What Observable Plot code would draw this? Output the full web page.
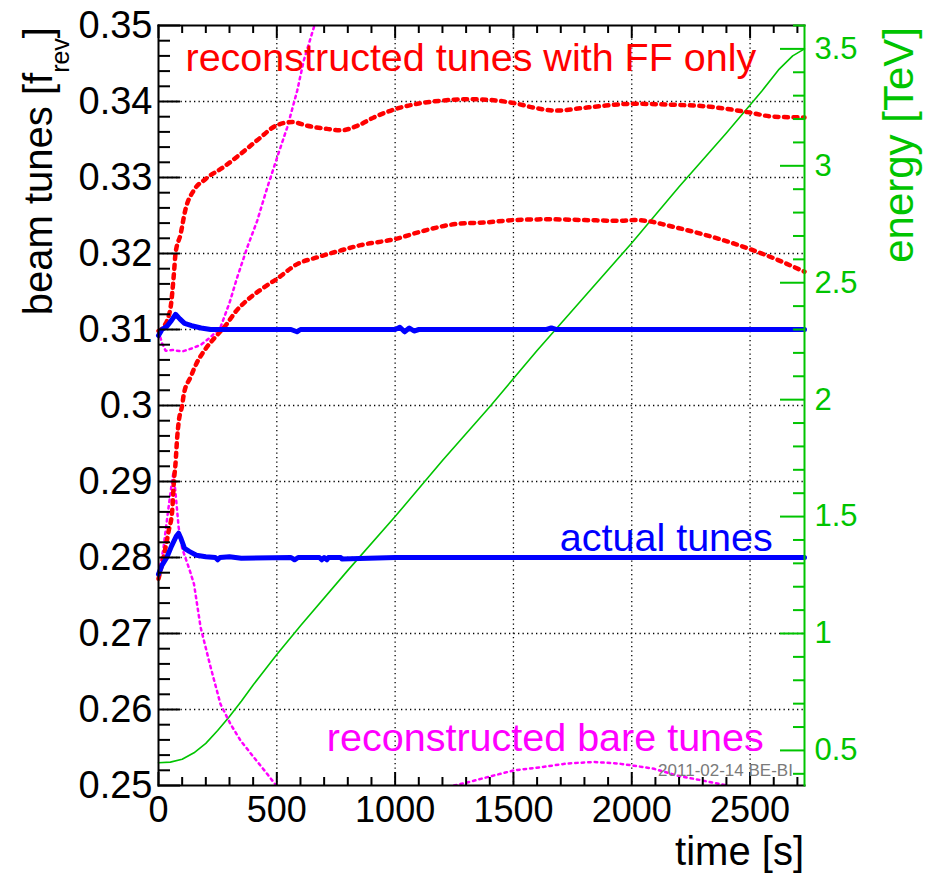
<!DOCTYPE html>
<html><head><meta charset="utf-8">
<script src="https://cdn.jsdelivr.net/npm/d3@7"></script>
<script src="https://cdn.jsdelivr.net/npm/@observablehq/plot@0.6"></script>
<style>
body{margin:0;background:#fff;}
#chart svg{font-family:"Liberation Sans",Arial,Helvetica,sans-serif;}
</style>
</head><body><div id="chart"></div>
<script>
// ---------- data ----------
const actualHT = [0, 15, 35, 55, 72, 90, 110, 140, 180, 220, 300, 560, 585, 600, 620, 800, 1000, 1020, 1040, 1060, 1080, 1100, 1300, 1640, 1660, 1680, 2000, 2730];
const actualHV = [0.3092, 0.3100, 0.3104, 0.3112, 0.3120, 0.3114, 0.3108, 0.3105, 0.3102, 0.3100, 0.3100, 0.3100, 0.3097, 0.3100, 0.3100, 0.3100, 0.3100, 0.3103, 0.3097, 0.3102, 0.3098, 0.3100, 0.3100, 0.3100, 0.3102, 0.3100, 0.3100, 0.3100];

const actualVT = [0, 15, 35, 55, 75, 85, 95, 110, 130, 160, 200, 240, 250, 260, 300, 350, 560, 575, 590, 640, 680, 690, 700, 712, 718, 770, 775, 1000, 2730];
const actualVV = [0.2778, 0.2790, 0.2800, 0.2815, 0.2828, 0.2832, 0.2825, 0.2812, 0.2808, 0.2803, 0.2801, 0.2800, 0.2797, 0.2800, 0.2801, 0.2799, 0.2800, 0.2797, 0.2800, 0.2800, 0.2800, 0.2797, 0.2800, 0.2797, 0.2800, 0.2800, 0.2798, 0.2800, 0.2800];

const ffHT = [0, 25, 51, 65, 72, 93, 114, 149, 199, 276, 347, 417, 502, 565, 629, 713, 770, 840, 910, 1000, 1094, 1192, 1300, 1400, 1500, 1600, 1680, 1780, 1869, 2010, 2150, 2334, 2489, 2600, 2730];
const ffHV = [0.3098, 0.3105, 0.3129, 0.3173, 0.3200, 0.3225, 0.3258, 0.3283, 0.3298, 0.3314, 0.3331, 0.3349, 0.3369, 0.3373, 0.3368, 0.3364, 0.3362, 0.3368, 0.3379, 0.3390, 0.3397, 0.3401, 0.3403, 0.3402, 0.3398, 0.3391, 0.3388, 0.3391, 0.3394, 0.3397, 0.3396, 0.3393, 0.3386, 0.3380, 0.3379];

const ffVT = [0, 21, 43, 58, 65, 72, 79, 86, 100, 107, 135, 160, 200, 240, 283, 330, 380, 430, 502, 586, 671, 770, 854, 1000, 1122, 1263, 1390, 1500, 1650, 1800, 1950, 2010, 2080, 2150, 2292, 2433, 2574, 2730];
const ffVV = [0.2772, 0.2800, 0.2835, 0.2862, 0.2900, 0.2924, 0.2958, 0.2980, 0.3000, 0.3015, 0.3037, 0.3055, 0.3075, 0.3090, 0.3105, 0.3125, 0.3140, 0.3152, 0.3167, 0.3186, 0.3195, 0.3204, 0.3211, 0.3219, 0.3230, 0.3239, 0.3241, 0.3244, 0.3245, 0.3244, 0.3243, 0.3244, 0.3242, 0.3237, 0.3226, 0.3213, 0.3197, 0.3176];

const bareHT = [0, 15, 30, 60, 100, 140, 180, 220, 262, 300, 333, 375, 417, 460, 502, 544, 586, 614, 657];
const bareHV = [0.3098, 0.3082, 0.3072, 0.3073, 0.3071, 0.3075, 0.3080, 0.3090, 0.3103, 0.3135, 0.3169, 0.3208, 0.3243, 0.3287, 0.3327, 0.3366, 0.3414, 0.3454, 0.3498];

// bare vertical tune: leaves the frame below 0.25 between ~500 s and ~1250 s (null = gap)
const bareVT = [0, 20, 40, 55, 63, 72, 85, 100, 130, 150, 178, 220, 262, 304, 347, 403, 460, 497, null, 1249, 1305, 1390, 1503, 1615, 1728, 1841, 1940, 2010, 2094, 2193, 2292, 2405];
const bareVV = [0.2780, 0.2810, 0.2860, 0.2895, 0.2912, 0.2885, 0.2840, 0.2812, 0.2785, 0.2765, 0.2708, 0.2656, 0.2607, 0.2581, 0.2559, 0.2537, 0.2515, 0.2500, null, 0.2500, 0.2504, 0.2511, 0.2520, 0.2524, 0.2529, 0.2531, 0.2529, 0.2526, 0.2522, 0.2513, 0.2507, 0.2500];

const energyT = [0, 50, 100, 150, 200, 250, 300, 350, 400, 450, 500, 600, 800, 1000, 1200, 1400, 1600, 1800, 2000, 2200, 2400, 2550, 2620, 2680, 2730];
const energyV = [0.447, 0.450, 0.462, 0.490, 0.530, 0.585, 0.645, 0.710, 0.780, 0.845, 0.910, 1.033, 1.27, 1.50, 1.74, 1.97, 2.21, 2.44, 2.67, 2.91, 3.14, 3.32, 3.41, 3.47, 3.50];

const timeTicks = [0, 500, 1000, 1500, 2000, 2500];
const tuneTicks = [0.25, 0.26, 0.27, 0.28, 0.29, 0.30, 0.31, 0.32, 0.33, 0.34, 0.35];
const energyTicks = [0.5, 1, 1.5, 2, 2.5, 3, 3.5];

const annoTexts = ["reconstructed tunes with FF only", "actual tunes", "reconstructed bare tunes", "2011-02-14 BE-BI"];
const annoT = [114, 2596, 2558, 2681];
const annoQ = [0.3457, 0.2825, 0.25625, 0.2520];

// ---------- helpers ----------
const E0 = 0.35, E1 = 3.6;                      // energy range of the right axis
const toTune = e => 0.25 + (e - E0) / (E1 - E0) * 0.1;
const toEnergy = q => E0 + (q - 0.25) / 0.1 * (E1 - E0);
const rows = (ts, vs) => ts.map((t, i) => ({t, v: vs[i]}));

const timeMinor = d3.range(0, 2731, 100).filter(v => v % 500 !== 0);
const tuneMinor = d3.range(250, 351, 2).filter(v => v % 10 !== 0).map(v => v / 1000);
const energyMinor = d3.range(4, 37, 1).filter(v => v % 5 !== 0).map(v => v / 10);

const W = 925, H = 875, ML = 158, MR = 121, MT = 25, MB = 90;
const PW = W - ML - MR, PH = H - MT - MB;
const GREEN = "#00c400", RED = "#ff0000", BLUE = "#0000ff", MAG = "#ff00ff";
const FONT = '"Liberation Sans",Arial,Helvetica,sans-serif';

const plot = Plot.plot({
  width: W, height: H,
  marginLeft: ML, marginRight: MR, marginTop: MT, marginBottom: MB,
  x: {domain: [0, 2730], axis: null},
  y: {domain: [0.25, 0.35], axis: null},
  style: {fontFamily: FONT, background: "#fff", color: "#000", overflow: "visible"},
  marks: [
    Plot.gridX(timeTicks.slice(1), {stroke: "#000", strokeOpacity: 1, strokeWidth: 1.3, strokeDasharray: "1.3,3.2"}),
    Plot.gridY(tuneTicks.slice(1, -1), {stroke: "#000", strokeOpacity: 1, strokeWidth: 1.3, strokeDasharray: "1.3,3.2"}),

    Plot.line(rows(energyT, energyV), {x: "t", y: d => toTune(d.v), stroke: GREEN, strokeWidth: 1.6}),
    Plot.line(rows(bareHT, bareHV), {x: "t", y: "v", stroke: MAG, strokeWidth: 2.5, strokeDasharray: "2.5,4", clip: true}),
    Plot.line(rows(bareVT, bareVV), {x: "t", y: "v", stroke: MAG, strokeWidth: 2.5, strokeDasharray: "2.5,4", clip: true}),
    Plot.line(rows(ffHT, ffHV), {x: "t", y: "v", stroke: RED, strokeWidth: 4.5, strokeDasharray: "4,5.5", curve: "monotone-x"}),
    Plot.line(rows(ffVT, ffVV), {x: "t", y: "v", stroke: RED, strokeWidth: 4.5, strokeDasharray: "4,5.5", curve: "monotone-x"}),
    Plot.line(rows(actualHT, actualHV), {x: "t", y: "v", stroke: BLUE, strokeWidth: 5}),
    Plot.line(rows(actualVT, actualVV), {x: "t", y: "v", stroke: BLUE, strokeWidth: 5}),

    // frame
    Plot.frame({anchor: "top", stroke: "#000", strokeWidth: 2}),
    Plot.frame({anchor: "bottom", stroke: "#000", strokeWidth: 2}),
    Plot.frame({anchor: "left", stroke: "#000", strokeWidth: 2}),
    Plot.frame({anchor: "right", stroke: GREEN, strokeWidth: 2}),

    // inward ticks (ROOT style)
    Plot.tickY(tuneTicks, {y: d => d, insetRight: PW - 22, stroke: "#000", strokeWidth: 2}),
    Plot.tickY(tuneMinor, {y: d => d, insetRight: PW - 12, stroke: "#000", strokeWidth: 2}),
    Plot.tickX(timeTicks, {x: d => d, insetTop: PH - 13, stroke: "#000", strokeWidth: 2}),
    Plot.tickX(timeMinor, {x: d => d, insetTop: PH - 8, stroke: "#000", strokeWidth: 2}),
    Plot.tickX(timeTicks, {x: d => d, insetBottom: PH - 13, stroke: "#000", strokeWidth: 2}),
    Plot.tickX(timeMinor, {x: d => d, insetBottom: PH - 8, stroke: "#000", strokeWidth: 2}),
    Plot.tickY(energyTicks, {y: toTune, insetLeft: PW - 24, stroke: GREEN, strokeWidth: 2}),
    Plot.tickY(energyMinor, {y: toTune, insetLeft: PW - 11, stroke: GREEN, strokeWidth: 2}),

    // tick labels
    Plot.axisY(tuneTicks, {anchor: "left", tickSize: 0, tickPadding: 6, fontSize: 38, label: null,
      tickFormat: d => d3.format("~g")(Math.round(d * 100) / 100)}),
    Plot.axisX(timeTicks, {anchor: "bottom", tickSize: 0, tickPadding: 11, fontSize: 36, label: null,
      tickFormat: d => String(d)}),
    Plot.axisY(energyTicks.map(toTune), {anchor: "right", tickSize: 0, tickPadding: 10, fontSize: 31, label: null, fill: GREEN,
      tickFormat: d => d3.format("~g")(Math.round(toEnergy(d) * 10) / 10)}),

    // annotations
    Plot.text([0], {x: () => annoT[0], y: () => annoQ[0], text: () => annoTexts[0], fill: RED, fontSize: 39.5, textAnchor: "start"}),
    Plot.text([1], {x: () => annoT[1], y: () => annoQ[1], text: () => annoTexts[1], fill: BLUE, fontSize: 39.5, textAnchor: "end"}),
    Plot.text([2], {x: () => annoT[2], y: () => annoQ[2], text: () => annoTexts[2], fill: MAG, fontSize: 39.5, textAnchor: "end"}),
    Plot.text([3], {x: () => annoT[3], y: () => annoQ[3], text: () => annoTexts[3], fill: "#7a7a7a", fontSize: 17, textAnchor: "end"})
  ]
});

// axis titles (with subscript) added as real SVG text
const svg = d3.select(plot);
const yl = svg.append("text")
  .attr("transform", "translate(52,27) rotate(-90)")
  .attr("text-anchor", "end")
  .attr("font-family", FONT).attr("font-size", 40).attr("fill", "#000");
yl.append("tspan").text("beam tunes [f");
yl.append("tspan").attr("font-size", 25).attr("dy", 17).text("rev");
yl.append("tspan").attr("dy", -17).text("]");

svg.append("text")
  .attr("transform", "translate(913,27) rotate(-90)")
  .attr("text-anchor", "end")
  .attr("font-family", FONT).attr("font-size", 42).attr("fill", GREEN)
  .text("energy [TeV]");

svg.append("text")
  .attr("x", 804).attr("y", 865)
  .attr("text-anchor", "end")
  .attr("font-family", FONT).attr("font-size", 40).attr("fill", "#000")
  .text("time [s]");

document.getElementById("chart").append(plot);
</script>
</body></html>
